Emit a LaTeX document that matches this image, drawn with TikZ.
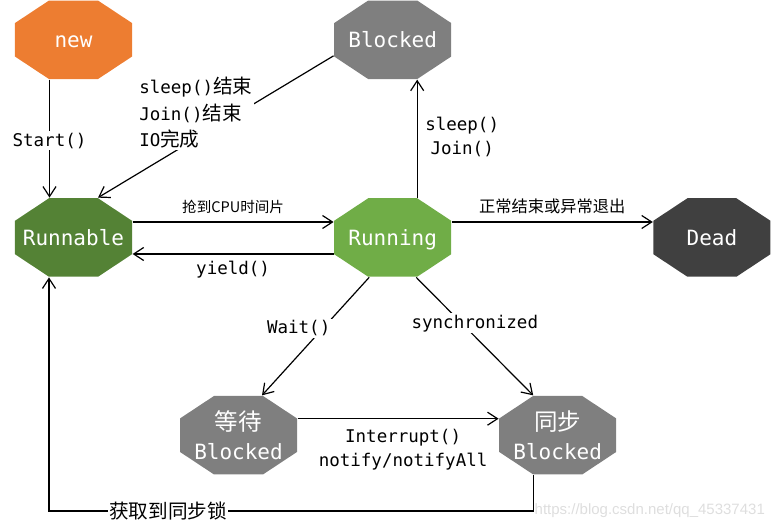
\documentclass[tikz,border=0pt]{standalone}
\usepackage{fontspec}
\setmonofont{DejaVu Sans Mono}
\newfontfamily\cjk{Noto Sans CJK SC}[Scale=1.12]
\newfontfamily\wmfont{Liberation Sans}
\newcommand\zhtext[1]{{\cjk #1}}
\usetikzlibrary{positioning}
\usetikzlibrary{arrows.meta}

\definecolor{neworange}{HTML}{ED7D31}
\definecolor{runnablegreen}{HTML}{548235}
\definecolor{runninggreen}{HTML}{70AD47}
\definecolor{blockedgray}{HTML}{7F7F7F}
\definecolor{deadgray}{HTML}{404040}

\begin{document}
\begin{tikzpicture}[
    node distance=118pt and 201pt,
    line width=1.2pt,
    >={Straight Barb[length=10pt,width=13pt]},
    octa/.style={minimum width=117pt, minimum height=78.5pt, inner sep=0pt,
        text=white, align=center, font=\ttfamily\fontsize{21}{29}\selectfont,
        path picture={\fill[#1]
            ([xshift=34pt]path picture bounding box.north west) --
            ([xshift=-34pt]path picture bounding box.north east) --
            ([yshift=-22.5pt]path picture bounding box.north east) --
            ([yshift=22.5pt]path picture bounding box.south east) --
            ([xshift=-34pt]path picture bounding box.south east) --
            ([xshift=34pt]path picture bounding box.south west) --
            ([yshift=22.5pt]path picture bounding box.south west) --
            ([yshift=-22.5pt]path picture bounding box.north west) -- cycle;}},
    oneline/.style={text height=15.3pt, text depth=0pt},
    lbl/.style={font=\ttfamily\fontsize{17.5}{24}\selectfont, inner sep=1.5pt, align=center},
    cut/.style={fill=white}
]
        \useasboundingbox (-73.5pt,237.5pt) rectangle (701.5pt,-291.5pt);

        % Nodes
        \node[octa=runnablegreen, oneline] (runnable) {Runnable};
        \node[octa=neworange, oneline, above=of runnable] (new) {new};
        \node[octa=runninggreen, oneline, right=of runnable] (running) {Running};
        \node[octa=blockedgray, oneline, above=of running] (blocked) {Blocked};
        \node[octa=deadgray, oneline, right=of running] (dead) {Dead};
        \node[octa=blockedgray, below=of runnable, xshift=165pt] (waitb) {\zhtext{等待}\\Blocked};
        \node[octa=blockedgray, right=of waitb] (syncb) {\zhtext{同步}\\Blocked};

        \node[font=\wmfont\fontsize{15}{15}\selectfont, text=black!13, anchor=east]
            (mark) at ([xshift=152pt,yshift=-36pt]syncb.south east) {https://blog.csdn.net/qq\_45337431};

        % Edges
        \draw[->] ([xshift=-24pt]new.south) -- node[lbl, cut, yshift=-2pt] {Start()} ([xshift=-24pt]runnable.north);
        \draw[->] ([yshift=-16pt]blocked.west) -- node[lbl, cut, align=left, xshift=-20pt, yshift=14pt,
            font=\ttfamily\fontsize{17.5}{26.5}\selectfont]
            {sleep()\zhtext{结束}\\Join()\zhtext{结束}\\IO\zhtext{完成}} ([xshift=24.5pt]runnable.north);
        \draw[->] ([xshift=24.5pt]running.north) -- node[lbl, right, xshift=6pt, yshift=2pt] {sleep()\\Join()} ([xshift=24.5pt]blocked.south);

        \draw[->] ([yshift=15.5pt]runnable.east) -- node[above, yshift=4pt, font=\cjk\fontsize{13}{16}\selectfont] {抢到CPU时间片} ([yshift=15.5pt]running.west);
        \draw[->] ([yshift=-16.5pt]running.west) -- node[lbl, below, yshift=-5pt] {yield()} ([yshift=-16.5pt]runnable.east);
        \draw[->] ([yshift=15.5pt]running.east) -- node[above, yshift=4pt, font=\cjk\fontsize{14.5}{18}\selectfont] {正常结束或异常退出} ([yshift=15.5pt]dead.west);

        \draw[->] ([xshift=-23.5pt]running.south) -- node[lbl, cut, pos=0.415, xshift=-26pt, yshift=-2pt] {Wait()} ([xshift=23.5pt]waitb.north);
        \draw[->] ([xshift=23.5pt]running.south) -- node[lbl, cut, pos=0.39, xshift=13pt] {synchronized} ([xshift=-24.5pt]syncb.north);
        \draw[->] ([yshift=16.5pt]waitb.east) -- node[lbl, below, xshift=5pt, yshift=-8pt] {Interrupt()\\notify/notifyAll} ([yshift=16.5pt]syncb.west);

        \draw[->] ([xshift=-24.5pt]syncb.south) -- ++(0,-36pt)
            -| node[lbl, cut, pos=0.377] {\zhtext{获取到同步锁}} ([xshift=-24.5pt]runnable.south);
\end{tikzpicture}
\end{document}
